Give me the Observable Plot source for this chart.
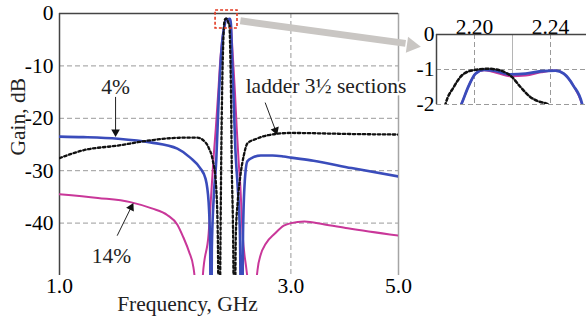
<!DOCTYPE html>
<html><head><meta charset="utf-8">
<script src="https://cdn.jsdelivr.net/npm/d3@7"></script>
<script src="https://cdn.jsdelivr.net/npm/@observablehq/plot@0.6"></script>
<style>
html,body{margin:0;padding:0;background:#fff;overflow:hidden;}
#wrap{position:relative;width:586px;height:322px;}
#wrap svg{position:absolute;top:0;left:0;}
</style></head>
<body><div id="wrap"></div>
<script>
// ---- data ----
const xTicks = [1, 3, 5];
const xGrid = [3];
const yTicks = [0, -10, -20, -30, -40];
const yGrid = [-10, -20, -30, -40];

const blueF = [1.00,1.12,1.32,1.54,1.75,1.86,1.95,2.00,2.03,2.045,2.053,2.061,2.08,2.105,2.13,2.15,2.17,2.185,2.193,2.197,2.2005,2.205,2.21,2.219,2.227,2.235,2.2426,2.247,2.252,2.2567,2.262,2.27,2.285,2.305,2.33,2.355,2.375,2.39,2.41,2.44,2.5,2.6,2.75,2.9,3.0,3.34,4.0,5.0];
const blueG = [-23.5,-23.6,-23.9,-24.6,-25.8,-27.5,-29.5,-31.5,-36,-45,-70,-45,-35,-28,-16,-9,-4.5,-2.7,-2,-1.46,-1.12,-1.01,-1.03,-1.14,-1.12,-1.05,-1.03,-1.12,-1.46,-2,-4.5,-9,-16,-26,-33,-42,-70,-42,-32,-28.2,-27.5,-27.1,-27.1,-27.3,-27.5,-28.1,-29.5,-31.1];

const pinkF = [1.00,1.2,1.4,1.55,1.67,1.75,1.80,1.85,1.889,1.915,1.94,1.965,1.975,2.03,2.06,2.08,2.10,2.125,2.145,2.165,2.185,2.193,2.197,2.2005,2.205,2.21,2.219,2.227,2.235,2.2426,2.247,2.252,2.2567,2.265,2.28,2.30,2.32,2.34,2.36,2.385,2.43,2.47,2.50,2.53,2.56,2.6,2.66,2.78,2.9,3.0,3.2,3.5,3.93,5.0];
const pinkG = [-34.5,-35.2,-36,-37.2,-38.5,-40.3,-42.7,-45.5,-48.5,-55,-75,-55,-50,-42,-33,-27,-22,-15,-9,-5,-2.7,-2,-1.46,-1.12,-1.02,-1.07,-1.19,-1.17,-1.08,-1.03,-1.12,-1.46,-2,-4.5,-9,-15,-22,-28,-33,-42,-49,-55,-75,-55,-49,-46,-44,-42,-40.5,-40,-39.7,-40.2,-41,-42.4];

const ladderF = [1.00,1.12,1.32,1.54,1.80,1.925,1.98,2.03,2.07,2.10,2.12,2.135,2.148,2.155,2.165,2.175,2.1847,2.1891,2.1944,2.2005,2.2075,2.2137,2.2198,2.2242,2.2295,2.2347,2.2382,2.243,2.25,2.258,2.265,2.28,2.295,2.31,2.33,2.36,2.40,2.44,2.55,2.7,3.0,4.0,5.0];
const ladderG = [-27.6,-26.1,-25.2,-24.2,-23.7,-23.7,-24.2,-25.6,-28,-32,-42,-70,-42,-28,-14,-6,-2,-1.5,-1.12,-1.01,-0.98,-1.03,-1.22,-1.5,-1.79,-1.93,-1.98,-3,-8,-16,-28,-42,-70,-42,-36,-31,-27,-24.8,-23.9,-23.2,-22.8,-23,-23.1];

const insetXDomain = [2.18, 2.26];
const insetXTicks = [2.20, 2.24];
const insetXGridDashed = [2.20, 2.24];
const insetXGridSolid = [2.22];
const insetYTicks = [0, -1, -2];
const insetYGrid = [-1, -2];

const pctLabels = ["4%", "14%"];
const pctF = [1.305, 1.28];
const pctG = [-14.05, -46.3];
const ladderLabel = "ladder 3½ sections";
const ladderLabelF = 2.42;
const ladderLabelG = -13.85;
const arrowF1 = [1.305, 2.655, 1.315];
const arrowG1 = [-15.9, -17.0, -42.4];
const arrowF2 = [1.305, 2.789, 1.405];
const arrowG2 = [-22.6, -22.3, -37.0];
const arrowRot = [180, 160, 27];

const boxF = [2.098, 2.328];
const boxG = [0.57, -2.86];
const zoomArrowF = [2.36, 5.17];
const zoomArrowG = [-1.4, -5.7];
const zoomHead = {f: 5.32, g: -6.1, rot: 98};

const yLabel = "Gain, dB";
const yLabelG = -19.7;
const xLabel = "Frequency, GHz";
const xLabelF = 1.836;

// ---- build ----
const rows = (F, G) => F.map((f, i) => ({f, g: G[i]}));
const blue = rows(blueF, blueG);
const pink = rows(pinkF, pinkG);
const ladder = rows(ladderF, ladderG);
const pct = pctLabels.map((t, i) => ({t, f: pctF[i], g: pctG[i]}));
const arrows = arrowF1.map((f, i) => ({f1: f, g1: arrowG1[i], f2: arrowF2[i], g2: arrowG2[i], r: arrowRot[i]}));

const BLUE = "#3a4cbb", PINK = "#c93799", BLACK = "#111";
const FONT = {fontFamily: "'Liberation Serif', 'Times New Roman', serif", fontSize: "21.5px", background: "transparent", overflow: "visible"};

const main = Plot.plot({
  width: 586, height: 322,
  marginLeft: 59, marginRight: 188, marginTop: 13, marginBottom: 47,
  style: FONT,
  x: {type: "log", domain: [1, 5], ticks: xTicks, tickFormat: d => d.toFixed(1), tickSize: 0, tickPadding: 2, label: null},
  y: {domain: [-50, 0], ticks: yTicks, tickFormat: d => String(d), tickSize: 0, tickPadding: 6, label: null},
  marks: [
    Plot.ruleY(yGrid, {stroke: "#9a9a9a", strokeDasharray: "5,3", strokeWidth: 1}),
    Plot.ruleX(xGrid, {stroke: "#9a9a9a", strokeDasharray: "5,3", strokeWidth: 1}),
    Plot.ruleX([5], {stroke: "#a5a5a5", strokeWidth: 1.5}),
    Plot.ruleY([0], {stroke: "#444", strokeWidth: 1.5}),
    Plot.ruleX([1], {stroke: "#444", strokeWidth: 1.5}),
    Plot.line(pink, {x: "f", y: "g", stroke: PINK, strokeWidth: 2, curve: "monotone-x", clip: true}),
    Plot.line(blue, {x: "f", y: "g", stroke: BLUE, strokeWidth: 2.6, curve: "monotone-x", clip: true}),
    Plot.line(ladder, {x: "f", y: "g", stroke: BLACK, strokeWidth: 2.3, strokeDasharray: "2.5,2.5", curve: "monotone-x", clip: true}),
    Plot.rect([{x1: boxF[0], x2: boxF[1], y1: boxG[0], y2: boxG[1]}], {x1: "x1", x2: "x2", y1: "y1", y2: "y2", fill: "none", stroke: "#e23a22", strokeWidth: 1.6, strokeDasharray: "3,2"}),
    Plot.link([{x1: zoomArrowF[0], y1: zoomArrowG[0], x2: zoomArrowF[1], y2: zoomArrowG[1]}], {x1: "x1", y1: "y1", x2: "x2", y2: "y2", stroke: "#c9c6c3", strokeWidth: 7}),
    Plot.dot([zoomHead], {x: "f", y: "g", symbol: "triangle", r: 6, rotate: "rot", fill: "#c9c6c3", stroke: "none"}),
    Plot.link(arrows, {x1: "f1", y1: "g1", x2: "f2", y2: "g2", stroke: "#222", strokeWidth: 1}),
    Plot.dot(arrows, {x: "f2", y: "g2", symbol: "triangle", r: 3.2, rotate: "r", fill: "#111", stroke: "none"}),
    Plot.text(pct, {x: "f", y: "g", text: "t", textAnchor: "middle", fill: "#222", stroke: "white", strokeWidth: 5}),
    Plot.text([{t: ladderLabel, f: ladderLabelF, g: ladderLabelG}], {x: "f", y: "g", text: "t", textAnchor: "start", fill: "#222", stroke: "white", strokeWidth: 5}),
    Plot.text([{t: yLabel, g: yLabelG}], {y: "g", text: "t", frameAnchor: "left", textAnchor: "middle", dx: -41, rotate: -90, fill: "#222"}),
    Plot.text([{t: xLabel, f: xLabelF}], {x: "f", text: "t", frameAnchor: "bottom", textAnchor: "middle", dy: 35, fill: "#222"})
  ]
});

const inset = Plot.plot({
  width: 190, height: 130,
  marginLeft: 36, marginRight: 2, marginTop: 34, marginBottom: 26,
  style: FONT,
  x: {domain: insetXDomain, axis: "top", ticks: insetXTicks, tickFormat: d => d.toFixed(2), tickSize: 0, tickPadding: 1, label: null},
  y: {domain: [-2, 0], ticks: insetYTicks, tickFormat: d => String(d), tickSize: 0, tickPadding: 2, label: null},
  marks: [
    Plot.ruleY(insetYGrid, {stroke: "#9a9a9a", strokeDasharray: "5,3", strokeWidth: 1}),
    Plot.ruleX(insetXGridDashed, {stroke: "#9a9a9a", strokeDasharray: "5,3", strokeWidth: 1}),
    Plot.ruleX(insetXGridSolid, {stroke: "#b5b5b5", strokeWidth: 1}),
    Plot.ruleY([0], {stroke: "#444", strokeWidth: 1.5}),
    Plot.ruleX([insetXDomain[0]], {stroke: "#444", strokeWidth: 1.5}),
    Plot.line(pink, {x: "f", y: "g", stroke: PINK, strokeWidth: 2, curve: "monotone-x", clip: true}),
    Plot.line(blue, {x: "f", y: "g", stroke: BLUE, strokeWidth: 2.8, curve: "monotone-x", clip: true}),
    Plot.line(ladder, {x: "f", y: "g", stroke: BLACK, strokeWidth: 2.5, strokeDasharray: "3,2.5", curve: "monotone-x", clip: true})
  ]
});

const wrap = document.getElementById("wrap");
main.style.maxWidth = "none";
wrap.appendChild(main);
inset.style.left = "400px";
inset.style.top = "0px";
inset.style.maxWidth = "none";
wrap.appendChild(inset);
</script></body></html>
